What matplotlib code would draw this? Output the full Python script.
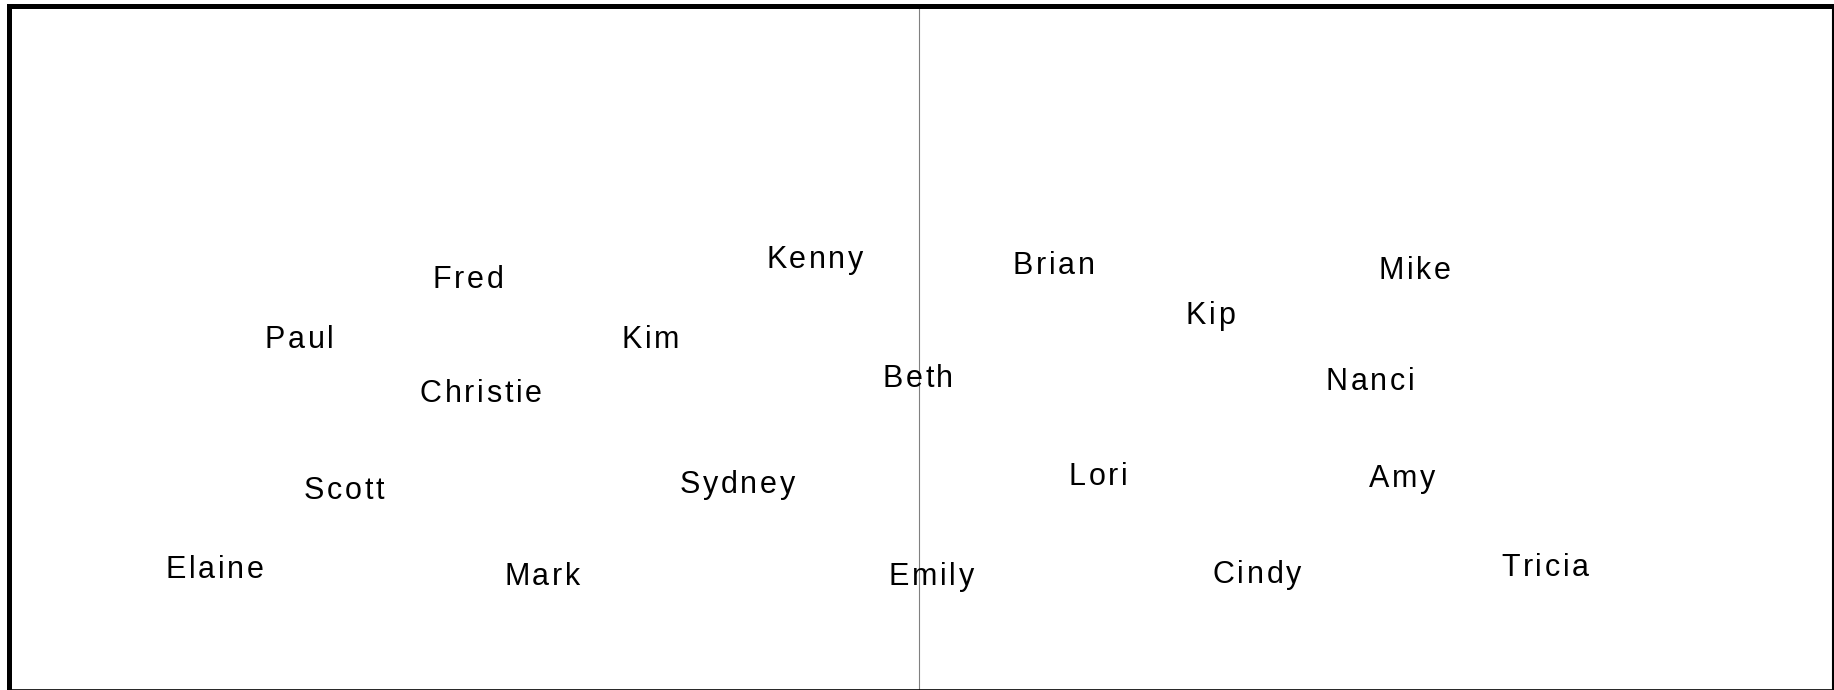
import matplotlib as mpl

mpl.use("Agg")

import matplotlib.pyplot as plt
from matplotlib.font_manager import FontProperties, findfont, get_font

# label positions on the map (x: left/right of the centre line, y: up/down)
names = ["Fred", "Kenny", "Brian", "Mike", "Paul", "Kim", "Kip", "Christie", "Beth",
         "Nanci", "Scott", "Sydney", "Lori", "Amy", "Elaine", "Mark", "Emily", "Cindy", "Tricia"]
x_vals = [-0.494, -0.114, 0.148, 0.544, -0.679, -0.294, 0.320, -0.480, -0.001,
          0.495, -0.630, -0.199, 0.197, 0.530, -0.772, -0.413, 0.014, 0.371, 0.687]
y_vals = [0.207, 0.264, 0.248, 0.233, 0.031, 0.031, 0.102, -0.127, -0.083,
          -0.091, -0.410, -0.393, -0.369, -0.375, -0.643, -0.662, -0.662, -0.656, -0.637]

FAMILY = "Liberation Sans"
FONT_SIZE = 22
TRACKING = 1.9  # extra space between letters, points


def char_advances(text):
    font = get_font(findfont(FontProperties(family=FAMILY)))
    font.set_size(FONT_SIZE, 72)
    out = []
    for ch in text:
        glyph = font.load_char(ord(ch))
        out.append(glyph.linearHoriAdvance / 65536)
    return out


def spaced_label(ax, text, x, y):
    adv = char_advances(text)
    total = sum(adv) + TRACKING * (len(text) - 1)
    off = -total / 2
    cap_half = 0.716 * FONT_SIZE / 2
    for ch, a in zip(text, adv):
        ax.annotate(ch, xy=(x, y), xytext=(off, -cap_half), textcoords="offset points",
                    ha="left", va="baseline", fontsize=FONT_SIZE, family=FAMILY,
                    color="black", zorder=3)
        off += a + TRACKING


fig = plt.figure(figsize=(18.34, 6.9), dpi=100)
ax = fig.add_axes([8.5 / 1834, 0.5 / 690, 1824 / 1834, 683.5 / 690])
ax.set_xlim(-0.998, 1.002)
ax.set_ylim(-1, 1)
ax.set_xticks([])
ax.set_yticks([])

ax.axvline(0, color="#808080", linewidth=0.8, zorder=1)

for name, x, y in zip(names, x_vals, y_vals):
    spaced_label(ax, name, x, y)

ax.spines["left"].set_linewidth(3.6)
ax.spines["top"].set_linewidth(3.6)
ax.spines["right"].set_linewidth(1.5)
ax.spines["bottom"].set_linewidth(1.2)
for sp in ax.spines.values():
    sp.set_color("black")

fig.savefig("out.png", dpi=100)
